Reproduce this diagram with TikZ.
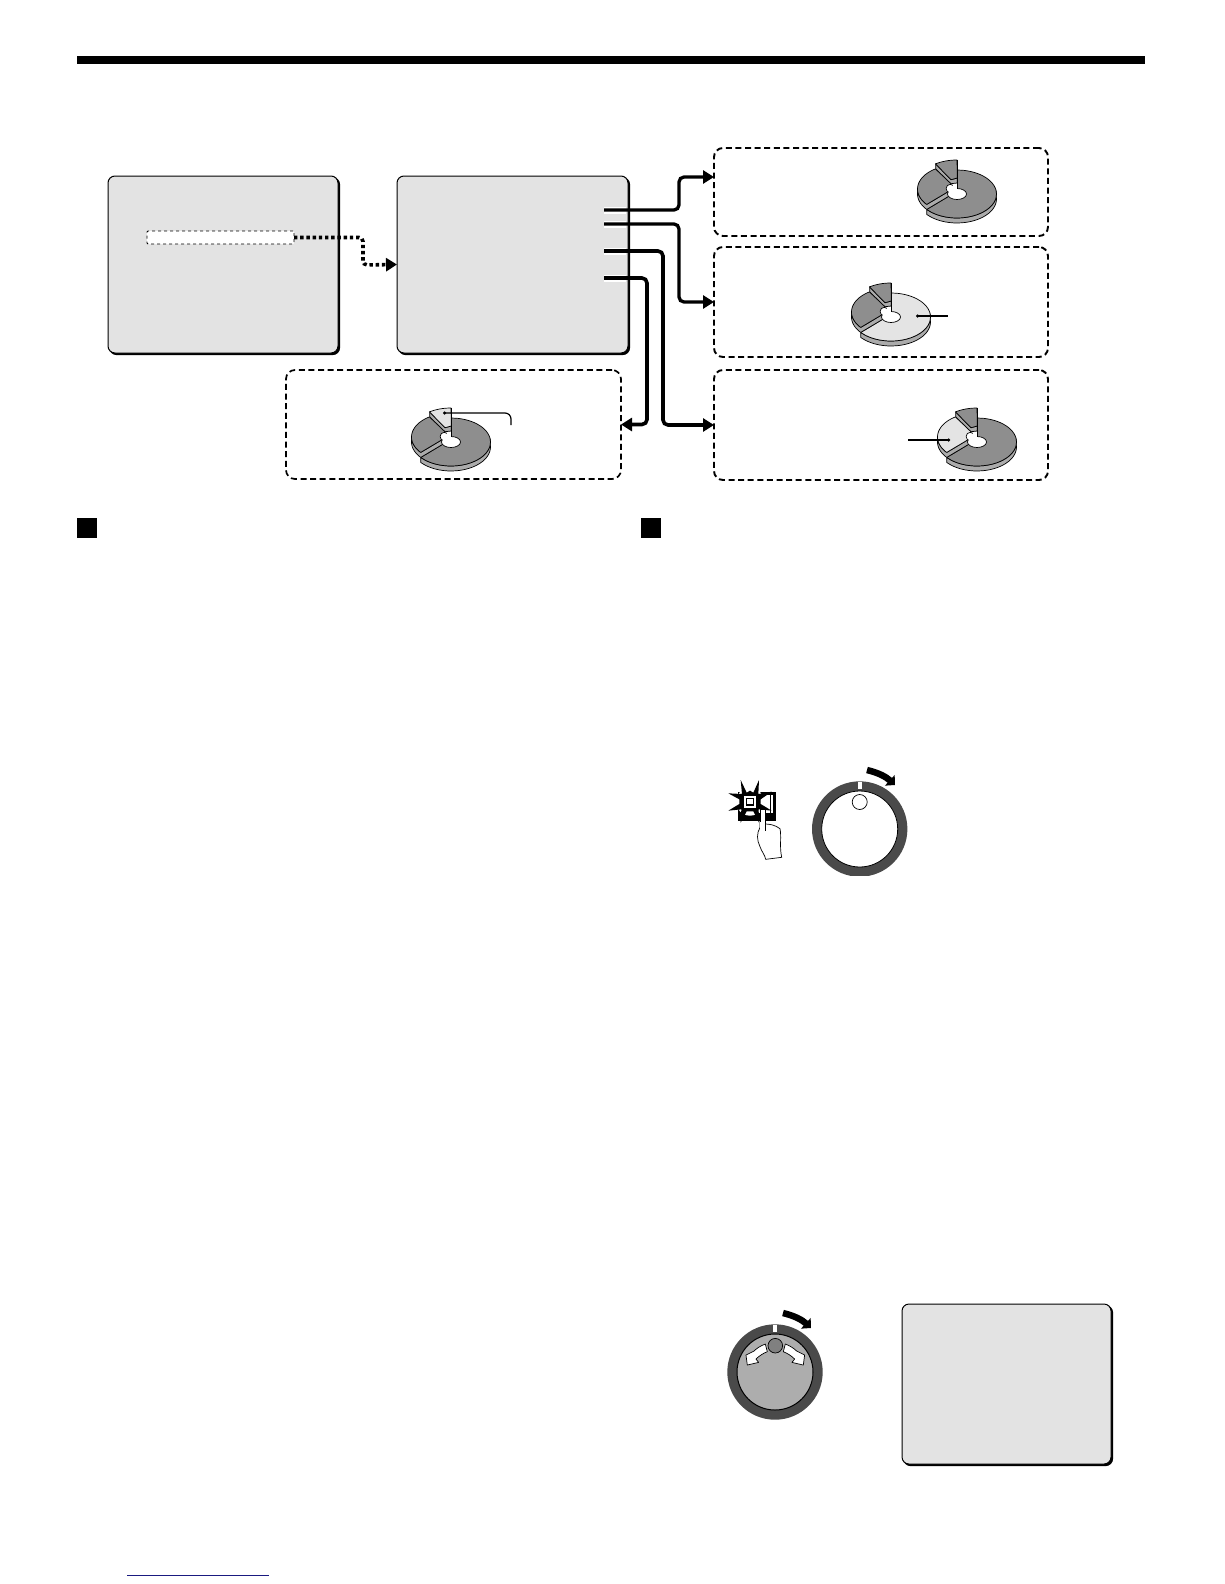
\documentclass[tikz,border=0pt]{standalone}
\usetikzlibrary{arrows.meta,shadows}
\definecolor{screengrey}{HTML}{E3E3E3}
\definecolor{diskdark}{HTML}{8E8E8E}
\definecolor{disklight}{HTML}{E4E4E4}
\definecolor{diskside}{HTML}{ABABAB}
\definecolor{ringgrey}{HTML}{4A4A4A}
\definecolor{linkblue}{HTML}{1A1A80}
\tikzset{
    screenbox/.style={draw=black,line width=1pt,fill=screengrey,rounded corners=7pt,inner sep=0pt,outer sep=0pt,
        copy shadow={shadow xshift=1.6pt,shadow yshift=-1.6pt,draw=black,fill=black}},
    panelbox/.style={draw=black,line width=1.9pt,dash pattern=on 6pt off 3.6pt,rounded corners=9pt,inner sep=0pt,outer sep=0pt},
    stublink/.style={line width=3.3pt,rounded corners=5pt,-{Triangle[length=11pt,width=13pt]}},
    dotlink/.style={line width=3.6pt,dash pattern=on 3.4pt off 2.8pt,rounded corners=4pt,-{Triangle[length=11pt,width=13pt]}},
    halo/.style={white,line width=7pt},
    diskline/.style={draw=black,line width=.7pt,line join=round},
    leader/.style={line width=1.2pt},
    bigarrow/.style={line width=6.5pt,-{Triangle[length=7pt,width=14pt]}},
    rimplot/.style={samples=24,smooth}
}
% disk: centre, colour of the big part, left part, top flag
\newcommand{\diskicon}[5]{
    \begin{scope}[shift={(#1,#2)}]
        \draw[diskline,fill=diskside] plot[rimplot,domain=-8:140] ({39.5*cos(\x)},{24*sin(\x)+5}) -- plot[rimplot,domain=140:-8] ({39.5*cos(\x)},{24*sin(\x)}) -- cycle;
        \draw[diskline,fill=#3] plot[rimplot,domain=-90:140] ({39.5*cos(\x)},{24*sin(\x)}) -- (-8.3,2.3) -- (0.3,-4) -- cycle;
        \draw[diskline,fill=diskside] plot[rimplot,domain=140:182] ({39.5*cos(\x)},{24*sin(\x)}) -- plot[rimplot,domain=182:140] ({39.5*cos(\x)},{24*sin(\x)-5}) -- (-8.3,-2.7) -- (-8.3,2.3) -- cycle;
        \draw[diskline,fill=#4] plot[rimplot,domain=140:237] ({39.5*cos(\x)},{24*sin(\x)-5}) -- (-6,-10.3) -- (-8.3,-2.7) -- cycle;
        \draw[diskline,fill=diskside] (-21.3,-30.1) -- (-21.3,-25.1) -- (-6,-10.3) -- (0.3,-11) -- (0.3,-16) -- (-6,-14.3) -- cycle;
        \draw[diskline,fill=#5] plot[rimplot,domain=237:270] ({39.5*cos(\x)},{24*sin(\x)-10}) -- (0.3,-16) -- (-6,-14.3) -- cycle;
        \draw[diskline,fill=white] (-6.7,-5.5) circle (4.2);
        \draw[diskline,fill=white] (0,0) ellipse (9.5 and 5.5);
        \fill[white] (-4.5,-10.5) rectangle (0,1);
        \fill[white] (-6.5,-5) circle (3.4);
        \draw[line width=.9pt] (0.3,-34) -- (0.3,-5.5);
    \end{scope}
}
\begin{document}
\begin{tikzpicture}[x=1pt,y=-1pt]
    \useasboundingbox (0,0) rectangle (1224,1584);
    \fill (77,56) rectangle (1145,64);
    \fill (77,518) rectangle (97,538);
    \fill (641,518) rectangle (661,538);
    \draw[linkblue,line width=1pt] (127,1575.5) -- (269,1575.5);
    % screens
    \node[screenbox,minimum width=230pt,minimum height=177pt] (menuscreen) at (223,264.5) {};
    \node[screenbox,minimum width=231pt,minimum height=177pt] (setscreen) at (512.5,264.5) {};
    \node[screenbox,minimum width=209pt,minimum height=160pt] (resultscreen) at (1006.5,1384) {};
    \node[draw=black,fill=white,line width=.8pt,dashed,rounded corners=1pt,inner sep=0pt,outer sep=0pt,minimum width=147pt,minimum height=13pt] (menuline) at (220.5,237.5) {};
    % panels
    \node[panelbox,minimum width=334pt,minimum height=88pt] (panelA) at (881,192) {};
    \node[panelbox,minimum width=334pt,minimum height=110pt] (panelB) at (881,302) {};
    \node[panelbox,minimum width=334pt,minimum height=110pt] (panelC) at (881,425) {};
    \node[panelbox,line width=1.7pt,minimum width=335pt,minimum height=109pt] (panelD) at (453.5,424.5) {};
    % disks
    \diskicon{957}{194}{diskdark}{diskdark}{diskdark}
    \diskicon{891}{317}{disklight}{diskdark}{diskdark}
    \diskicon{977}{442}{diskdark}{disklight}{diskdark}
    \diskicon{451}{442}{diskdark}{diskdark}{disklight}
    \coordinate (diskB) at (916,316);
    \coordinate (diskC) at (950,440);
    \coordinate (diskD) at (443,413);
    \draw[leader,{Circle[length=3pt]}-] (diskB) -- (948,316);
    \draw[leader,-{Circle[length=3pt]}] (908,440) -- (diskC);
    \draw[leader,{Circle[length=3pt]}-,rounded corners=6pt] (diskD) -- (511,413) -- (511,425);
    % links
    \coordinate (optA) at (604,210);
    \coordinate (optB) at (604,224);
    \coordinate (optC) at (604,251);
    \coordinate (optD) at (604,278);
    \draw[halo] (optA) -- ++(22,0);
    \draw[halo] (optB) -- ++(22,0);
    \draw[halo] (optC) -- ++(22,0);
    \draw[halo] (optD) -- ++(22,0);
    \draw[stublink] (optA) -- (679,210) -- (679,177) -- ([yshift=15pt]panelA.west);
    \draw[stublink] (optB) -- (679,224) -- (679,302) -- (panelB.west);
    \draw[stublink,line width=3.6pt] (optC) -- (663,251) -- (663,425) -- (panelC.west);
    \draw[stublink,line width=3.6pt] (optD) -- (647,278) -- (647,424.5) -- (panelD.east);
    \draw[dotlink] (menuline.east) -- (363,237.5) -- (363,265) -- (setscreen.west);
    % button with flash
    \begin{scope}[shift={(710,750)},scale=1/3]
        \draw[line width=.7pt,fill=white] (150,190) -- (150,232) .. controls (140,250) and (140,270) .. (150,290) .. controls (155,305) and (165,315) .. (167,328) -- (215,322) .. controls (208,290) and (215,260) .. (210,236) .. controls (195,225) and (180,222) .. (165,222) -- (165,190) -- cycle;
        \fill (85,125) rectangle (198,212);
        \fill[white] (94,135) rectangle (188,202);
        \fill (100,190) rectangle (190,204);
        \draw[line width=1pt] (180,135) -- (180,190);
        \fill[white] (120,155) circle (42);
        \fill (92,90) -- (110,128) -- (120,122) -- (130,128) -- (147,90) -- (145,132) -- (185,125) -- (152,148) -- (152,162) -- (185,182) -- (146,178) -- (147,218) -- (130,184) -- (110,184) -- (92,218) -- (94,178) -- (55,182) -- (88,162) -- (88,148) -- (55,130) -- (96,132) -- cycle;
        \fill[white] (102,137) rectangle (138,173);
        \draw[line width=1.2pt] (109,145) rectangle (131,165);
        \draw[line width=.7pt,fill=white] (150,178) -- (150,240) -- (165,240) -- (165,178) -- cycle;
        \fill[white] (151,215) rectangle (164,245);
    \end{scope}
    % first knob
    \begin{scope}
        \clip (800,770) rectangle (910,875.5);
        \fill[ringgrey] (859.7,829) circle (47.7);
        \draw[fill=white,line width=.8pt] (859.7,829) circle (38);
    \end{scope}
    \fill[white] (858,782) rectangle (862,789);
    \draw[line width=.7pt] (859.7,802) circle (7.5);
    \coordinate (knobAfrom) at (867,770);
    \coordinate (knobAto) at (895,785);
    \draw[bigarrow] (knobAfrom) to[bend left=14] (knobAto);
    % second knob
    \fill[ringgrey] (775,1372) circle (47.7);
    \draw[fill=black!32,line width=1pt] (775,1372) circle (38);
    \fill[white] (773,1325) rectangle (777,1332);
    \draw[line width=.7pt,fill=black!50] (775.3,1345.7) circle (7.3);
    \foreach \side in {1,-1}{
        \begin{scope}[shift={(775.3,1345.7)},xscale=\side,scale=1/3]
            \draw[line width=.7pt,fill=white,line join=round] (-30,-5) .. controls (-44,0) and (-56,8) .. (-64,16) -- (-88,28) -- (-84,58) -- (-50,50) -- (-58,40) .. controls (-48,30) and (-35,22) .. (-24,18) -- cycle;
        \end{scope}
    }
    \coordinate (knobBfrom) at (783,1313);
    \coordinate (knobBto) at (811,1328);
    \draw[bigarrow] (knobBfrom) to[bend left=14] (knobBto);
\end{tikzpicture}
\end{document}
